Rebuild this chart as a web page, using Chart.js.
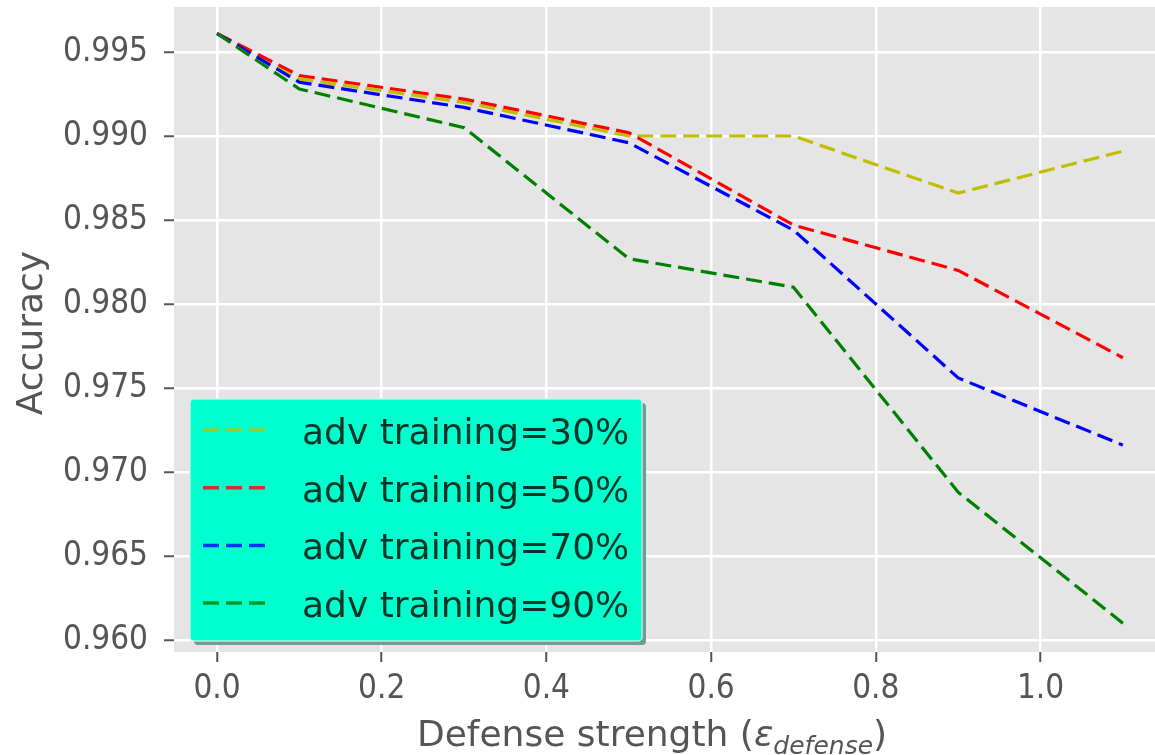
<!DOCTYPE html>
<html>
<head>
<meta charset="utf-8">
<title>Accuracy vs defense strength</title>
<script src="https://cdn.jsdelivr.net/npm/chart.js@4"></script>
<style>
    body { margin: 0; background: #fff; }
    #chartBox { width: 1155px; height: 755px; }
</style>
</head>
<body>
<div id="chartBox"><canvas id="accuracyChart" width="1155" height="755"></canvas></div>
<script>
// Veriler
const defenseStrength = [0, 0.1, 0.3, 0.5, 0.7, 0.9, 1.1];
const acc30 = [0.9961, 0.9934, 0.9920, 0.9900, 0.9900, 0.9866, 0.9891];
const acc50 = [0.9961, 0.9936, 0.9922, 0.9902, 0.9847, 0.9820, 0.9768];
const acc70 = [0.9961, 0.9932, 0.9917, 0.9896, 0.9844, 0.9756, 0.9716];
const acc90 = [0.9961, 0.9928, 0.9905, 0.9827, 0.9810, 0.9688, 0.9610];
const seriesLabels = ['adv training=30%', 'adv training=50%', 'adv training=70%', 'adv training=90%'];
const xTicks = [0.0, 0.2, 0.4, 0.6, 0.8, 1.0];
const yTicks = [0.960, 0.965, 0.970, 0.975, 0.980, 0.985, 0.990, 0.995];

const lineColors = ['#bfbf00', '#ff0000', '#0000ff', '#008000'];
// legend lines look blended with the cyan box
const legendColors = ['rgb(153,204,41)', 'rgb(204,51,41)', 'rgb(0,51,245)', 'rgb(0,153,41)'];
const DASH = [16, 7];

const FONT = "'DejaVu Sans', sans-serif";
const TICK_FONT = "'DejaVu Sans Condensed', 'DejaVu Sans', sans-serif";

function toPoints(values) {
    return values.map((v, i) => ({ x: defenseStrength[i], y: v }));
}

const allSeries = [acc30, acc50, acc70, acc90];
const datasets = allSeries.map((values, i) => ({
    label: seriesLabels[i],
    data: toPoints(values),
    borderColor: lineColors[i],
    borderWidth: 3.2,
    borderDash: DASH,
    borderCapStyle: 'butt',
    pointRadius: 0,
    tension: 0,
    fill: false,
    order: allSeries.length - i   // later series on top, like matplotlib
}));

// gri çizim alanı
const plotBackground = {
    id: 'plotBackground',
    beforeDraw(chart) {
        const { ctx, chartArea: a } = chart;
        ctx.save();
        ctx.fillStyle = '#e5e5e5';
        ctx.fillRect(a.left, a.top, a.right - a.left, a.bottom - a.top);
        ctx.restore();
    }
};

// eksen başlıkları ve lejant
const extras = {
    id: 'extras',
    afterDraw(chart) {
        const ctx = chart.ctx;
        ctx.save();

        // y title
        ctx.fillStyle = '#555';
        ctx.font = `36px ${FONT}`;
        ctx.textAlign = 'center';
        ctx.textBaseline = 'alphabetic';
        ctx.save();
        ctx.translate(42, 333);
        ctx.rotate(-Math.PI / 2);
        ctx.fillText('Accuracy', 0, 0);
        ctx.restore();

        // x title with subscript
        const parts = [
            { text: 'Defense strength (', font: `36px ${FONT}`, dy: 0 },
            { text: 'ε', font: `italic 36px ${FONT}`, dy: 0 },
            { text: 'defense', font: `italic 25px ${FONT}`, dy: 8 },
            { text: ')', font: `36px ${FONT}`, dy: 0 }
        ];
        let total = 0;
        parts.forEach(p => { ctx.font = p.font; p.w = ctx.measureText(p.text).width; total += p.w; });
        let x = 652 - total / 2;
        ctx.textAlign = 'left';
        parts.forEach(p => {
            ctx.font = p.font;
            ctx.fillText(p.text, x, 746 + p.dy);
            x += p.w;
        });

        // legend box
        const box = { x: 190, y: 399, w: 452, h: 242 };
        ctx.fillStyle = '#6f9d96';
        ctx.beginPath();
        ctx.roundRect(box.x + 4, box.y + 4, box.w, box.h, 4);
        ctx.fill();
        ctx.fillStyle = '#00ffcc';
        ctx.beginPath();
        ctx.roundRect(box.x, box.y, box.w, box.h, 4);
        ctx.fill();
        ctx.strokeStyle = 'rgba(200,240,232,0.9)';
        ctx.lineWidth = 1.5;
        ctx.stroke();

        seriesLabels.forEach((label, i) => {
            const ly = 430 + i * 57.7;
            ctx.strokeStyle = legendColors[i];
            ctx.lineWidth = 3.5;
            ctx.setLineDash(DASH);
            ctx.beginPath();
            ctx.moveTo(203, ly);
            ctx.lineTo(272, ly);
            ctx.stroke();
            ctx.setLineDash([]);
            ctx.fillStyle = 'rgb(0,51,41)';
            ctx.font = `36px ${FONT}`;
            ctx.textAlign = 'left';
            ctx.textBaseline = 'alphabetic';
            ctx.fillText(label, 302, ly + 14);
        });

        ctx.restore();
    }
};

// no automatic padding for tick labels, plot area is set by hand
function noPadding(scale) {
    scale.paddingTop = 0;
    scale.paddingBottom = 0;
    scale.paddingLeft = 0;
    scale.paddingRight = 0;
}

const ctx = document.getElementById('accuracyChart').getContext('2d');
new Chart(ctx, {
    type: 'line',
    data: { datasets },
    options: {
        responsive: false,
        devicePixelRatio: 1,
        animation: false,
        layout: { padding: { top: 7, right: 0, left: 0, bottom: 0 } },
        plugins: {
            legend: { display: false },
            tooltip: { enabled: false }
        },
        scales: {
            x: {
                type: 'linear',
                min: -0.0522,
                max: 1.139,
                afterFit(scale) { scale.height = 103; noPadding(scale); },
                afterBuildTicks(scale) { scale.ticks = xTicks.map(v => ({ value: v })); },
                grid: {
                    color: '#ffffff',
                    lineWidth: 2.5,
                    drawTicks: true,
                    tickLength: 10,
                    tickColor: '#555',
                    tickWidth: 2
                },
                border: { display: false },
                ticks: {
                    padding: 8,
                    color: '#555',
                    font: { family: TICK_FONT, size: 33 },
                    maxRotation: 0,
                    callback: v => v.toFixed(1)
                }
            },
            y: {
                min: 0.959286,
                max: 0.997679,
                afterFit(scale) { scale.width = 174; noPadding(scale); },
                afterBuildTicks(scale) { scale.ticks = yTicks.map(v => ({ value: v })); },
                grid: {
                    color: '#ffffff',
                    lineWidth: 2.5,
                    drawTicks: true,
                    tickLength: 10,
                    tickColor: '#555',
                    tickWidth: 2
                },
                border: { display: false },
                ticks: {
                    padding: 16,
                    color: '#555',
                    font: { family: TICK_FONT, size: 33 },
                    callback: v => v.toFixed(3)
                }
            }
        }
    },
    plugins: [plotBackground, extras]
});
</script>
</body>
</html>
